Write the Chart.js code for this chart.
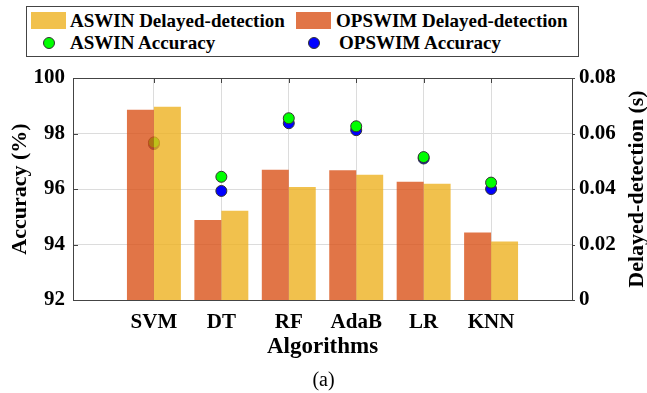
<!DOCTYPE html>
<html>
<head>
<meta charset="utf-8">
<script src="https://cdn.jsdelivr.net/npm/chart.js@4/dist/chart.umd.min.js"></script>
<style>
  body { margin: 0; background: #fff; }
  #wrap { position: relative; width: 647px; height: 393px; font-family: 'Liberation Serif', 'Times New Roman', serif; }
  #legend { position: absolute; left: 26px; top: 6px; width: 551px; height: 49px; border: 1px solid #444; background: #fff; }
  .item { position: absolute; font-weight: bold; font-size: 19px; line-height: 20px; white-space: nowrap; color: #000; }
  .swatch { position: absolute; width: 35px; height: 17px; }
  .dot { position: absolute; width: 10px; height: 10px; border-radius: 50%; border: 1px solid #333; }
  #caption { position: absolute; left: 0; width: 647px; top: 368px; text-align: center; font-size: 20px; }
</style>
</head>
<body>
<div id="wrap">
  <canvas id="accChart" width="647" height="393"></canvas>
  <div id="legend">
    <div class="swatch" style="left:4px;top:5px;background:rgba(237,177,32,0.8)"></div>
    <div class="item" style="left:43px;top:4px">ASWIN Delayed-detection</div>
    <div class="swatch" style="left:269px;top:5px;background:rgba(217,83,25,0.8)"></div>
    <div class="item" style="left:309px;top:4px">OPSWIM Delayed-detection</div>
    <div class="dot" style="left:16px;top:30px;background:#00ff00"></div>
    <div class="item" style="left:43px;top:26px">ASWIN Accuracy</div>
    <div class="dot" style="left:281px;top:30px;background:#0000ff"></div>
    <div class="item" style="left:312px;top:26px">OPSWIM Accuracy</div>
  </div>
  <div id="caption">(a)</div>
</div>
<script>
const categories = ['SVM', 'DT', 'RF', 'AdaB', 'LR', 'KNN'];
// delayed detection, seconds (right axis)
const aswinDelay  = [0.0696, 0.0322, 0.0407, 0.0451, 0.0419, 0.0211];
const opswimDelay = [0.0686, 0.0288, 0.0469, 0.0468, 0.0426, 0.0243];
// accuracy, percent (left axis)
const aswinAcc  = [97.68, 96.44, 98.55, 98.26, 97.15, 96.23];
const opswimAcc = [97.62, 95.93, 98.37, 98.12, 97.10, 96.00];
const accTicks = [92, 94, 96, 98, 100];
const delayTicks = [0, 0.02, 0.04, 0.06, 0.08];

const tickFont = { family: 'Liberation Serif', size: 21, weight: 'bold' };
const gridColor = '#dcdcdc';

function toPoints(values) {
    return values.map((v, i) => ({ x: i + 1, y: v }));
}

// box around the plot plus inner tick marks, and the right-hand title read bottom-to-top
const framePlugin = {
    id: 'frame',
    afterDraw(chart) {
        const { ctx, chartArea: a, scales } = chart;
        ctx.save();
        ctx.strokeStyle = '#444';
        ctx.lineWidth = 1;
        ctx.beginPath();
        categories.forEach((c, i) => {
            const x = Math.round(scales.x.getPixelForValue(i + 1)) + 0.5;
            ctx.moveTo(x, a.top);
            ctx.lineTo(x, a.top + 5);
        });
        accTicks.forEach(t => {
            const y = Math.round(scales.y.getPixelForValue(t)) + 0.5;
            ctx.moveTo(a.left, y);
            ctx.lineTo(a.left + 5, y);
        });
        delayTicks.forEach(t => {
            const y = Math.round(scales.y2.getPixelForValue(t)) + 0.5;
            ctx.moveTo(a.right, y);
            ctx.lineTo(a.right + 3, y);
        });
        ctx.stroke();
        ctx.strokeRect(Math.round(a.left) + 0.5, Math.round(a.top) + 0.5,
            Math.round(a.right - a.left), Math.round(a.bottom - a.top));

        ctx.translate(637, (a.top + a.bottom) / 2);
        ctx.rotate(-Math.PI / 2);
        ctx.fillStyle = '#000';
        ctx.font = 'bold 22px "Liberation Serif"';
        ctx.textAlign = 'center';
        ctx.textBaseline = 'middle';
        ctx.fillText('Delayed-detection (s)', 0, 0);
        ctx.restore();
    }
};

new Chart(document.getElementById('accChart'), {
    type: 'bar',
    data: {
        datasets: [
            {
                label: 'OPSWIM Delayed-detection',
                data: toPoints(opswimDelay),
                yAxisID: 'y2',
                backgroundColor: 'rgba(217, 83, 25, 0.8)',
                categoryPercentage: 0.8,
                barPercentage: 1.0,
                order: 0
            },
            {
                label: 'ASWIN Delayed-detection',
                data: toPoints(aswinDelay),
                yAxisID: 'y2',
                backgroundColor: 'rgba(237, 177, 32, 0.8)',
                categoryPercentage: 0.8,
                barPercentage: 1.0,
                order: 0
            },
            {
                type: 'scatter',
                label: 'ASWIN Accuracy',
                data: toPoints(aswinAcc),
                yAxisID: 'y',
                backgroundColor: '#00ff00',
                borderColor: '#333',
                borderWidth: 1,
                pointRadius: 5.5,
                order: 1
            },
            {
                type: 'scatter',
                label: 'OPSWIM Accuracy',
                data: toPoints(opswimAcc),
                yAxisID: 'y',
                backgroundColor: '#0000ff',
                borderColor: '#333',
                borderWidth: 1,
                pointRadius: 5.5,
                order: 2
            }
        ]
    },
    options: {
        responsive: false,
        animation: false,
        layout: { padding: { top: 78, bottom: 31, left: 0, right: 0 } },
        plugins: {
            legend: { display: false },
            tooltip: { enabled: false }
        },
        scales: {
            x: {
                type: 'linear',
                min: -0.2,
                max: 7.2,
                offset: false,
                afterBuildTicks: axis => { axis.ticks = categories.map((c, i) => ({ value: i + 1 })); },
                afterFit: axis => { axis.height = 62; },
                ticks: {
                    color: '#000',
                    font: tickFont,
                    padding: 10,
                    autoSkip: false,
                    maxRotation: 0,
                    callback: v => categories[v - 1]
                },
                grid: { color: gridColor, drawTicks: false, offset: false },
                border: { display: false },
                title: {
                    display: true,
                    text: 'Algorithms',
                    color: '#000',
                    font: { family: 'Liberation Serif', size: 23, weight: 'bold' },
                    padding: { top: 0, bottom: 1 }
                }
            },
            y: {
                position: 'left',
                min: 92,
                max: 100,
                afterBuildTicks: axis => { axis.ticks = accTicks.map(v => ({ value: v })); },
                afterFit: axis => { axis.width = 73; },
                ticks: { color: '#000', font: tickFont, padding: 8 },
                grid: { color: gridColor, drawTicks: false },
                border: { display: false },
                title: {
                    display: true,
                    text: 'Accuracy (%)',
                    color: '#000',
                    font: { family: 'Liberation Serif', size: 22, weight: 'bold' },
                    padding: { top: 7, bottom: 0 }
                }
            },
            y2: {
                position: 'right',
                min: 0,
                max: 0.08,
                afterBuildTicks: axis => { axis.ticks = delayTicks.map(v => ({ value: v })); },
                afterFit: axis => { axis.width = 75; },
                ticks: {
                    color: '#000',
                    font: tickFont,
                    padding: 7,
                    callback: v => v === 0 ? '0' : v.toFixed(2)
                },
                grid: { display: false, drawTicks: false },
                border: { display: false }
            }
        }
    },
    plugins: [framePlugin]
});
</script>
</body>
</html>
